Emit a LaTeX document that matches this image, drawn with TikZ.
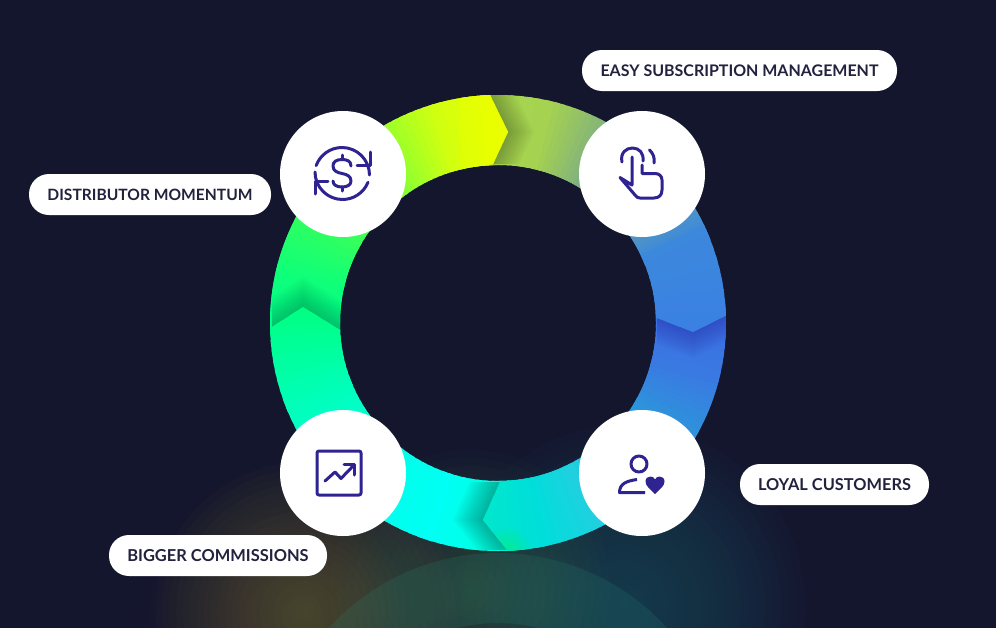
\documentclass[tikz,border=0pt]{standalone}
\usepackage{fontspec}
\setmainfont{Lato}
\definecolor{bg}{HTML}{14162E}
\definecolor{ink}{HTML}{2E2390}
\definecolor{labelink}{HTML}{22223F}
\definecolor{glowL}{HTML}{78802C}
\definecolor{glowLedge}{HTML}{6A2A38}
\definecolor{glowR}{HTML}{2A8290}
\definecolor{glowM}{HTML}{4C8A58}
\definecolor{echo}{HTML}{2A8F7C}
\definecolor{indigo}{HTML}{2A2AA8}
\tikzset{
  x=0.75pt,y=-0.75pt,
  pill/.style={draw=none,fill=white,rounded corners=15pt,minimum height=30.75pt,inner sep=0pt,text=labelink},
  badge/.style={circle,fill=white,minimum size=94.5pt,inner sep=0pt},
  iconline/.style={draw=ink,line width=2.25pt,line cap=round,line join=round},
}
\newcommand{\labelfont}[1]{\fontsize{#1pt}{14pt}\selectfont\bfseries}
\newcommand{\ringpath}{(726,323) arc[start angle=0,end angle=360,radius=228] -- (656,323) arc[start angle=360,end angle=0,radius=158] -- cycle}
% wedges for one colour stop list: a1/a2/colour1/colour2
\newcommand{\paintstops}[1]{%
  \foreach \angS/\angE/\colS/\colE in #1{%
    \definecolor{stopS}{HTML}{\colS}%
    \definecolor{stopE}{HTML}{\colE}%
    \foreach \pct in {0,10,...,100}{%
      \pgfmathsetmacro{\angA}{\angS+(\angE-\angS)*\pct/100-0.7}%
      \pgfmathsetmacro{\angB}{\angS+(\angE-\angS)*\pct/100+0.7+abs(\angE-\angS)/10}%
      \fill[stopE!\pct!stopS] (498,323) -- ({498+270*cos(\angA)},{323-270*sin(\angA)}) -- ({498+270*cos(\angB)},{323-270*sin(\angB)}) -- cycle;
    }%
  }%
}
\newcommand{\segment}[2]{\begin{scope}\clip \ringpath;\clip #1;\paintstops{#2}\end{scope}}
% soft shadow behind a chevron head: copies of the head stepped along a direction
\def\shadecol{black}
\def\shadeop{0.024}
\newcommand{\headshade}[8]{% wingA x,y  tip x,y  wingB x,y  dx dy
  \begin{scope}\clip \ringpath;
    \foreach \k in {1,...,10}{%
      \fill[\shadecol,opacity=\shadeop] ({#1+\k*#7},{#2+\k*#8}) -- ({#3+\k*#7},{#4+\k*#8}) -- ({#5+\k*#7},{#6+\k*#8}) -- (#5,#6) -- (#1,#2) -- cycle;
    }%
  \end{scope}}
\def\stopsA{192/178/00FF8C/00FF8C,178/165/00FF8C/10FF78,165/150/10FF78/2FFF60,150/125/2FFF60/80FF38,125/105/80FF38/D0FF10,105/92/D0FF10/E8FF00,92/78/E8FF00/EEFF00}
\def\stopsHead{110/92/D0FF10/E8FF00,92/78/E8FF00/EEFF00}
\def\stopsB{98/75/A9D94F/A5D250,75/58/A5D250/7FB080,58/35/7FB080/5A9CB8,35/22/5A9CB8/3C88DC,22/-6/3C88DC/3A80E4}
\def\stopsC{8/-15/3A6CE4/3A78E2,-15/-30/3A78E2/2F90DC,-30/-42/2F90DC/22A5DA,-42/-65/22A5DA/20D0E0,-65/-80/20D0E0/00DEDA,-80/-100/00DEDA/00EAC8}
\def\stopsD{-84/-110/00FFD8/00FFF4,-110/-135/00FFF4/00FFE4,-135/-160/00FFE4/00FFB8,-160/-185/00FFB8/00FF84}
\begin{document}
\begin{tikzpicture}
\useasboundingbox (0,0) rectangle (996,628);
\fill[bg] (0,0) rectangle (996,628);
% bottom glow
\begin{scope}
  \clip (0,0) rectangle (996,628);
  \foreach \r in {160,152,...,8}{\fill[glowLedge,opacity=0.014] (300,625) circle[radius=\r];}
  \foreach \r in {150,143,...,3}{\fill[glowL,opacity=0.031] (305,612) circle[radius=\r];}
  \foreach \r in {180,172,...,4}{\fill[glowR,opacity=0.024] (625,605) circle[radius=\r];}
  \foreach \r in {140,132,...,4}{\fill[glowM,opacity=0.026] (470,590) circle[radius=\r];}
  \fill[echo,opacity=0.17,even odd rule] (498,781) circle[radius=228] (498,781) circle[radius=158];
\end{scope}
% ring
\segment{(498,323) -- (240,336) -- (240,60) -- (473,60) -- (508,132) -- (493,164) -- cycle}{\stopsA}
\headshade{272}{327}{303}{307}{340}{330}{0}{-3}
\segment{(498,323) -- (340,330) -- (303,307) -- (272,327) -- (220,362) -- (220,620) -- (540,620) -- cycle}{\stopsD}
\def\shadeop{0.03}
\headshade{500}{482}{483}{520}{507}{550}{-3}{0}
\segment{(498,323) -- (500,482) -- (483,520) -- (507,550) -- (530,600) -- (800,600) -- (800,300) -- cycle}{\stopsC}
% green corner of the lower right arc
\begin{scope}\clip \ringpath;\clip (500,482) -- (483,520) -- (507,550) -- (540,556) -- (540,530) -- cycle;
  \foreach \k in {1,...,6}{\fill[green!90!cyan,opacity=0.05] (507,552) circle[radius={3+\k*3.5}];}
\end{scope}
\def\shadecol{indigo}\def\shadeop{0.05}
\headshade{657}{318}{693}{332}{727}{315}{0}{2.6}
\segment{(498,323) -- (470,40) -- (800,40) -- (800,282) -- (727,315) -- (693,332) -- (657,318) -- cycle}{\stopsB}
\def\shadecol{black}\def\shadeop{0.026}
\headshade{490}{95}{508}{132}{493}{164}{2.6}{0}
\segment{(460,60) -- (473,60) -- (508,132) -- (493,164) -- (460,170) -- cycle}{\stopsHead}
% badges
\node[badge] (dist) at (343,174) {};
\node[badge] (easy) at (642,174) {};
\node[badge] (comm) at (343,473) {};
\node[badge] (loyal) at (642,473) {};
% labels
\node[pill,minimum width=236.25pt,font=\labelfont{11.98}] (easyl) at (739.5,70.5) {EASY SUBSCRIPTION MANAGEMENT};
\node[pill,minimum width=181.5pt,font=\labelfont{11.7}] (distl) at (150,194.5) {DISTRIBUTOR MOMENTUM};
\node[pill,minimum width=163.5pt,font=\labelfont{12.33}] (comml) at (218,555.5) {BIGGER COMMISSIONS};
\node[pill,minimum width=141.75pt,font=\labelfont{12.28}] (loyall) at (834.5,484.5) {LOYAL CUSTOMERS};
% dollar refresh icon
\draw[iconline] (315,172) arc[start angle=180,end angle=22,radius=27.5];
\draw[iconline] (370,152) -- (370,165) -- (357,165);
\draw[iconline] (369.5,175) arc[start angle=0,end angle=-160,radius=27.5];
\draw[iconline] (328,181) -- (315,181) -- (315,194);
\draw[iconline] (351,166) .. controls (351,161) and (347,159.5) .. (342,159.5) .. controls (336,159.5) and (333,162) .. (333,166) .. controls (333,171) and (337,172.5) .. (342,173.5) .. controls (347,174.5) and (351,176) .. (351,181) .. controls (351,185) and (347,187) .. (342,187) .. controls (337,187) and (333,185) .. (333,181);
\draw[iconline] (342,155) -- (342,159.5) (342,187) -- (342,191);
% hand icon
\draw[iconline] (622,162) .. controls (620,153) and (626,148) .. (632.5,148) .. controls (639,148) and (644,153) .. (643,161);
\draw[iconline] (649.5,150) .. controls (653,153) and (655,158) .. (654,163);
\draw[iconline] (632,157) -- (632,185) -- (620,177.5) -- (635,195) .. controls (637,197.5) and (638,198) .. (640,198) -- (654,198) .. controls (659,198) and (662,195) .. (662,190) -- (662,180) .. controls (662,176) and (659,173.5) .. (655,173.5) -- (642,173.5) -- (642,165);
% chart icon
\draw[iconline,rounded corners=1.5pt] (317,451) rectangle (361,495);
\draw[iconline] (325,481) -- (335,472) -- (341,478.5) -- (354,465);
\draw[iconline] (344,464) -- (354.5,464) -- (354.5,475);
% person heart icon
\draw[iconline] (639,464) circle[radius=8];
\draw[iconline,line cap=butt] (637,479.5) .. controls (626,481) and (619.5,484) .. (619.5,492.5) -- (645,492.5);
\fill[ink] (655,494) .. controls (650,489) and (645.5,486) .. (645.5,481.5) .. controls (645.5,478) and (648,476.5) .. (650.5,476.5) .. controls (652.5,476.5) and (654,477.5) .. (655,479.5) .. controls (656,477.5) and (657.5,476.5) .. (659.5,476.5) .. controls (662,476.5) and (664.5,478) .. (664.5,481.5) .. controls (664.5,486) and (660,489) .. (655,494) -- cycle;
\end{tikzpicture}
\end{document}
